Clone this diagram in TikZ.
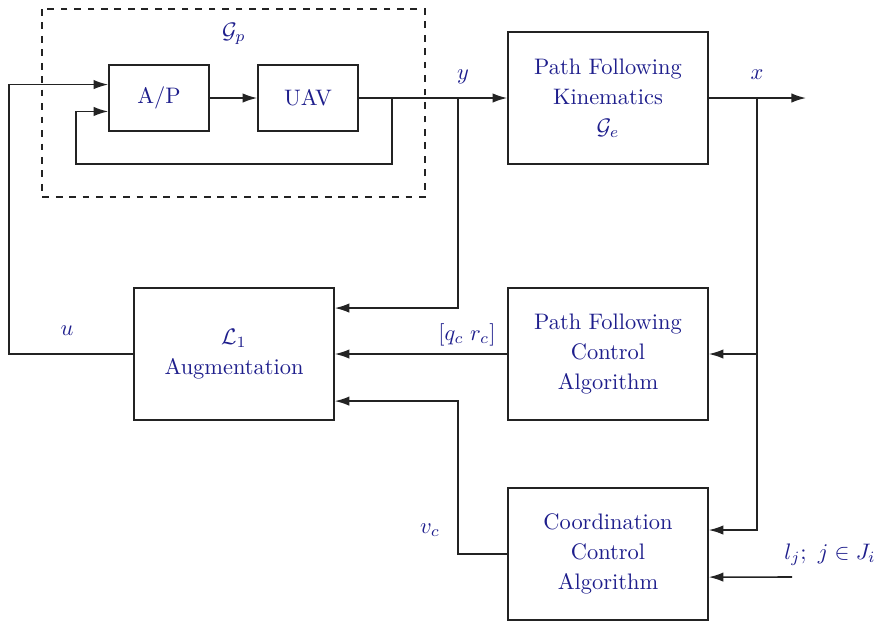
\documentclass[tikz,border=0pt]{standalone}
\usetikzlibrary{arrows.meta,calc}
\definecolor{txt}{RGB}{30,30,140}
\definecolor{ln}{RGB}{35,35,35}
\begin{document}
\begin{tikzpicture}[x=0.446pt,y=-0.446pt,
  blk/.style={draw=ln,line width=0.7pt,rectangle,align=center,text=txt,inner sep=0pt,
    font=\fontsize{10}{13.4}\selectfont},
  bigblk/.style={blk,minimum width=89.2pt,minimum height=59pt},
  smallblk/.style={blk,minimum width=44.6pt,minimum height=29.4pt},
  arr/.style={draw=ln,line width=0.7pt,-{Latex[length=6.5pt,width=4.2pt]}},
  wire/.style={draw=ln,line width=0.7pt},
  lab/.style={text=txt,inner sep=0pt,font=\fontsize{10}{12}\selectfont}]
\useasboundingbox (0,0) rectangle (877,622);
% dashed plant box
\draw[ln,line width=0.7pt,dashed] (42,9) rectangle (425,197);
\node[lab] (gp) at (234,34) {$\mathcal{G}_p$};
% blocks
\node[smallblk] (ap) at (159,98) {A/P};
\node[smallblk] (uav) at (308,98) {UAV};
\node[bigblk] (pfk) at (608,98) {Path Following\\Kinematics\\$\mathcal{G}_e$};
\node[bigblk] (l1) at (234,354) {$\mathcal{L}_1$\\Augmentation};
\node[bigblk] (pfc) at (608,354) {Path Following\\Control\\Algorithm};
\node[bigblk] (cca) at (608,554) {Coordination\\Control\\Algorithm};
% coordinates
\coordinate (fb) at (392,98);
\coordinate (ybr) at (458,98);
\coordinate (xbr) at (757,98);
\coordinate (xbr2) at (757,354);
\coordinate (out) at (806,98);
\coordinate (ljin) at (792,577);
% connectors
\draw[arr] (ap.east) -- (uav.west);
\draw[arr] (uav.east) -- (pfk.west);
\draw[arr] (fb) |- (76,164) |- ([yshift=-6pt]ap.west);
\draw[arr] (l1.west) -- (9,354) |- ([yshift=6pt]ap.west);
\draw[arr] (ybr) |- ([yshift=20.5pt]l1.east);
\draw[arr] (pfc.west) -- (l1.east);
\draw[arr] (cca.west) -- (458,554) |- ([yshift=-21pt]l1.east);
\draw[arr] (pfk.east) -- (out);
\draw[arr] (xbr) |- ([yshift=10.7pt]cca.east);
\draw[arr] (xbr2) -- (pfc.east);
\draw[arr] (ljin) -- ([yshift=-10.3pt]cca.east);
% labels
\node[lab] (ly) at (463,77) {$y$};
\node[lab] (lx) at (757,75) {$x$};
\node[lab] (lu) at (67,331) {$u$};
\node[lab] (lq) at (467,335) {$[q_c\;r_c]$};
\node[lab] (lv) at (430,530) {$v_c$};
\node[lab] (llj) at (830,555) {$l_j;\ j\in J_i$};
\end{tikzpicture}
\end{document}
